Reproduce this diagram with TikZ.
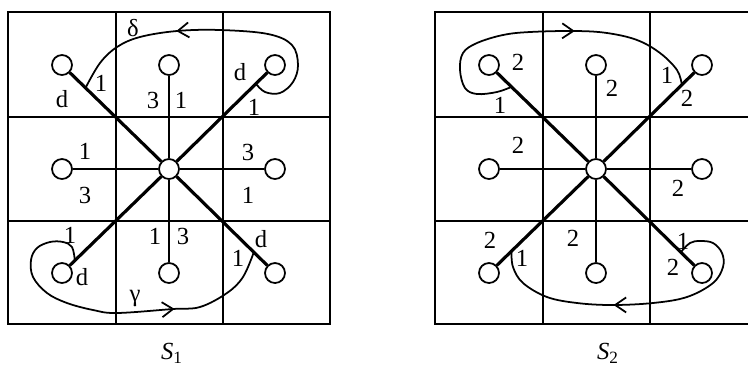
\documentclass[tikz,border=0pt]{standalone}
\usepackage{fontspec}
\setmainfont{Liberation Serif}
\usetikzlibrary{calc,arrows.meta,decorations.markings}

\tikzset{
  gridline/.style={line width=1.1pt},
  diagspoke/.style={line width=1.8pt},
  axisspoke/.style={line width=0.7pt},
  port/.style={circle, draw, fill=white, line width=1pt, minimum size=0.40cm, inner sep=0pt},
  loopcurve/.style={line width=1pt, line cap=round},
  arrowat/.style={postaction={decorate}, decoration={markings,
      mark=at position #1 with {\arrow{Straight Barb[length=2.2mm,width=3mm,line width=1pt]}}}},
  lbl/.style={inner sep=0pt, font=\fontsize{14}{16}\selectfont},
}

\begin{document}
\begin{tikzpicture}[x=0.02cm, y=-0.02cm]
\useasboundingbox (0,0) rectangle (748,366);
\clip (0,0) rectangle (748,366);
% ---------------- panel S1 ----------------
\begin{scope}
  % Grid
  \draw[gridline] (8,12) rectangle (330,324);
  \draw[gridline] (116,12) -- (116,324);
  \draw[gridline] (223,12) -- (223,324);
  \draw[gridline] (8,117) -- (330,117);
  \draw[gridline] (8,221) -- (330,221);
  % Circles
  \node[port] (a-nw) at (62,65) {};
  \node[port] (a-n) at (169,65) {};
  \node[port] (a-ne) at (275,65) {};
  \node[port] (a-w) at (62,169) {};
  \node[port] (a-ctr) at (169,169) {};
  \node[port] (a-e) at (275,169) {};
  \node[port] (a-sw) at (62,273) {};
  \node[port] (a-s) at (169,273) {};
  \node[port] (a-se) at (275,273) {};
  % Spokes
  \draw[diagspoke] (a-ctr) -- (a-nw);
  \draw[diagspoke] (a-ctr) -- (a-ne);
  \draw[diagspoke] (a-ctr) -- (a-sw);
  \draw[diagspoke] (a-ctr) -- (a-se);
  \draw[axisspoke] (a-ctr) -- (a-n);
  \draw[axisspoke] (a-ctr) -- (a-s);
  \draw[axisspoke] (a-ctr) -- (a-w);
  \draw[axisspoke] (a-ctr) -- (a-e);
  % Loop ends on the spokes
  \coordinate (a-delta0) at ($(a-ctr)!0.82!(a-ne)$);
  \coordinate (a-delta1) at ($(a-ctr)!0.78!(a-nw)$);
  \coordinate (a-gamma0) at ($(a-ctr)!0.88!(a-sw)$);
  \coordinate (a-gamma1) at ($(a-ctr)!0.80!(a-se)$);
  % Curves
  \draw[loopcurve, arrowat=0.64] plot[smooth, tension=0.6] coordinates {(a-delta0) (265,92) (280,93) (293,82)
    (298,65) (292,45) (268,34) (220,30) (177,31) (140,37) (117,47) (100,63) (a-delta1)};
  \draw[loopcurve, arrowat=0.69] plot[smooth, tension=0.6] coordinates {(a-gamma0) (72,247) (63,242) (50,242)
    (37,248) (31,260) (33,277) (47,293) (67,303) (93,310) (117,313) (173,309) (200,307) (227,293) (243,277) (a-gamma1)};
  % Labels
  \node[lbl] (a-ldelta) at (133,28) {δ};
  \node[lbl] (a-l1) at (101,83) {1};
  \node[lbl] (a-l2) at (62,99) {d};
  \node[lbl] (a-l3) at (153,100) {3};
  \node[lbl] (a-l4) at (181,100) {1};
  \node[lbl] (a-l5) at (240,72) {d};
  \node[lbl] (a-l6) at (254,107) {1};
  \node[lbl] (a-l7) at (85,151) {1};
  \node[lbl] (a-l8) at (248,152) {3};
  \node[lbl] (a-l9) at (85,195) {3};
  \node[lbl] (a-l10) at (248,195) {1};
  \node[lbl] (a-l11) at (70,235) {1};
  \node[lbl] (a-l12) at (155,236) {1};
  \node[lbl] (a-l13) at (183,236) {3};
  \node[lbl] (a-l14) at (261,239) {d};
  \node[lbl] (a-l15) at (238,258) {1};
  \node[lbl] (a-l16) at (82,277) {d};
  \node[lbl] (a-lgamma) at (135,298) {γ};
  \node[lbl] (a-title) at (172,353) {\itshape S\textsubscript{\upshape 1}};
\end{scope}
% ---------------- panel S2 ----------------
\begin{scope}[shift={(427,0)}]
  % Grid
  \draw[gridline] (8,12) rectangle (330,324);
  \draw[gridline] (116,12) -- (116,324);
  \draw[gridline] (223,12) -- (223,324);
  \draw[gridline] (8,117) -- (330,117);
  \draw[gridline] (8,221) -- (330,221);
  % Circles
  \node[port] (b-nw) at (62,65) {};
  \node[port] (b-n) at (169,65) {};
  \node[port] (b-ne) at (275,65) {};
  \node[port] (b-w) at (62,169) {};
  \node[port] (b-ctr) at (169,169) {};
  \node[port] (b-e) at (275,169) {};
  \node[port] (b-sw) at (62,273) {};
  \node[port] (b-s) at (169,273) {};
  \node[port] (b-se) at (275,273) {};
  % Spokes
  \draw[diagspoke] (b-ctr) -- (b-nw);
  \draw[diagspoke] (b-ctr) -- (b-ne);
  \draw[diagspoke] (b-ctr) -- (b-sw);
  \draw[diagspoke] (b-ctr) -- (b-se);
  \draw[axisspoke] (b-ctr) -- (b-n);
  \draw[axisspoke] (b-ctr) -- (b-s);
  \draw[axisspoke] (b-ctr) -- (b-w);
  \draw[axisspoke] (b-ctr) -- (b-e);
  % Loop ends on the spokes
  \coordinate (b-top0) at ($(b-ctr)!0.79!(b-nw)$);
  \coordinate (b-top1) at ($(b-ctr)!0.81!(b-ne)$);
  \coordinate (b-bot0) at ($(b-ctr)!0.80!(b-se)$);
  \coordinate (b-bot1) at ($(b-ctr)!0.79!(b-sw)$);
  % Curves
  \draw[loopcurve, arrowat=0.61] plot[smooth, tension=0.6] coordinates {(b-top0) (70,92) (50,94) (38,88)
    (33,70) (36,53) (50,43) (76,35) (103,32) (148,31) (180,33) (210,40) (233,53) (250,70) (b-top1)};
  \draw[loopcurve, arrowat=0.59] plot[smooth, tension=0.6] coordinates {(b-bot0) (263,243) (273,241) (286,243)
    (295,253) (296,267) (286,283) (260,297) (226,303) (185,305) (150,303) (120,297) (96,283) (86,267) (b-bot1)};
  % Labels
  \node[lbl] (b-l1) at (91,62) {2};
  \node[lbl] (b-l2) at (73,105) {1};
  \node[lbl] (b-l3) at (185,88) {2};
  \node[lbl] (b-l4) at (240,75) {1};
  \node[lbl] (b-l5) at (260,98) {2};
  \node[lbl] (b-l6) at (91,145) {2};
  \node[lbl] (b-l7) at (251,188) {2};
  \node[lbl] (b-l8) at (63,240) {2};
  \node[lbl] (b-l9) at (95,258) {1};
  \node[lbl] (b-l10) at (146,238) {2};
  \node[lbl] (b-l11) at (256,241) {1};
  \node[lbl] (b-l12) at (246,267) {2};
  \node[lbl] (b-title) at (181,353) {\itshape S\textsubscript{\upshape 2}};
\end{scope}
\end{tikzpicture}
\end{document}
